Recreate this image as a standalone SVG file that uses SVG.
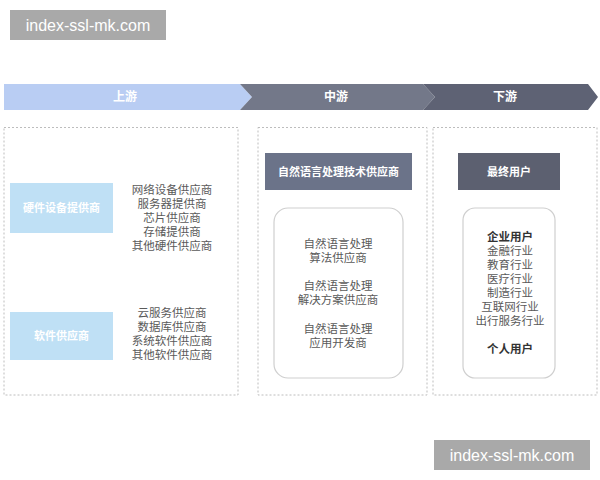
<svg xmlns="http://www.w3.org/2000/svg" width="600" height="480" viewBox="0 0 600 480">
<style>
text{font-family:"Liberation Sans","Noto Sans CJK SC",sans-serif;text-anchor:middle;dominant-baseline:central}
.wm{font-size:16px;fill:#fff}
.ban{font-size:12px;font-weight:bold;fill:#fff}
.lst{font-size:11.5px;fill:#5a5a5a}
.hd{font-size:11px;font-weight:bold;fill:#fff}
.b{font-weight:bold;fill:#333}
.dash{fill:#fff;stroke:#bdbdbd;stroke-width:1;stroke-dasharray:2 2}
.rr{fill:#fff;stroke:#cfcfcf;stroke-width:1.2}
</style>
<rect width="600" height="480" fill="#fff"/>
<g id="banner">
<polygon points="4,84 240,84 252,97 240,110 4,110" fill="#b9cdf3"/>
<polygon points="240,84 423,84 435,97 423,110 240,110 252,97" fill="#737889"/>
<polygon points="423,84 588,84 598,97 588,110 423,110 435,97" fill="#5e6274"/>
<text class="ban" x="125" y="97">上游</text>
<text class="ban" x="336" y="97">中游</text>
<text class="ban" x="505" y="97">下游</text>
</g>
<g id="upstream">
<rect class="dash" x="4" y="127.5" width="234" height="267.5"/>
<g id="hardware">
<rect x="10" y="183" width="103" height="50" fill="#bfe0f5"/>
<text class="hd" x="61.5" y="208">硬件设备提供商</text>
</g>
<g id="hardware-list">
<text class="lst" x="172" y="190">网络设备供应商</text>
<text class="lst" x="172" y="204">服务器提供商</text>
<text class="lst" x="172" y="218">芯片供应商</text>
<text class="lst" x="172" y="232">存储提供商</text>
<text class="lst" x="172" y="246">其他硬件供应商</text>
</g>
<g id="software">
<rect x="10" y="312" width="103" height="48" fill="#bfe0f5"/>
<text class="hd" x="61.5" y="336">软件供应商</text>
</g>
<g id="software-list">
<text class="lst" x="172" y="313">云服务供应商</text>
<text class="lst" x="172" y="327">数据库供应商</text>
<text class="lst" x="172" y="341">系统软件供应商</text>
<text class="lst" x="172" y="355">其他软件供应商</text>
</g>
</g>
<g id="midstream">
<rect class="dash" x="258" y="127.5" width="169" height="267.5"/>
<g id="nlp-header">
<rect x="265" y="153" width="147" height="37" fill="#6b7389"/>
<text class="hd" x="338.5" y="171.5">自然语言处理技术供应商</text>
</g>
<g id="nlp-list">
<rect class="rr" x="274" y="208" width="129" height="170" rx="14"/>
<text class="lst" x="338" y="244">自然语言处理</text>
<text class="lst" x="338" y="258">算法供应商</text>
<text class="lst" x="338" y="286">自然语言处理</text>
<text class="lst" x="338" y="300">解决方案供应商</text>
<text class="lst" x="338" y="329">自然语言处理</text>
<text class="lst" x="338" y="343">应用开发商</text>
</g>
</g>
<g id="downstream">
<rect class="dash" x="433" y="127.5" width="164" height="267.5"/>
<g id="end-user-header">
<rect x="458" y="153" width="102" height="37" fill="#5c6070"/>
<text class="hd" x="509" y="171.5">最终用户</text>
</g>
<g id="end-user-list">
<rect class="rr" x="463" y="208" width="92" height="170" rx="12"/>
<text class="lst b" x="510" y="237">企业用户</text>
<text class="lst" x="510" y="251">金融行业</text>
<text class="lst" x="510" y="265">教育行业</text>
<text class="lst" x="510" y="279">医疗行业</text>
<text class="lst" x="510" y="293">制造行业</text>
<text class="lst" x="510" y="307">互联网行业</text>
<text class="lst" x="510" y="321">出行服务行业</text>
<text class="lst b" x="510" y="349">个人用户</text>
</g>
</g>
<g id="connectors"></g>
<g id="watermark-top">
<rect x="10" y="10" width="156" height="30" fill="#a9a9a9"/>
<text class="wm" x="88" y="25">index-ssl-mk.com</text>
</g>
<g id="watermark-bottom">
<rect x="434" y="440" width="156" height="30" fill="#a9a9a9"/>
<text class="wm" x="512" y="455">index-ssl-mk.com</text>
</g>
</svg>
